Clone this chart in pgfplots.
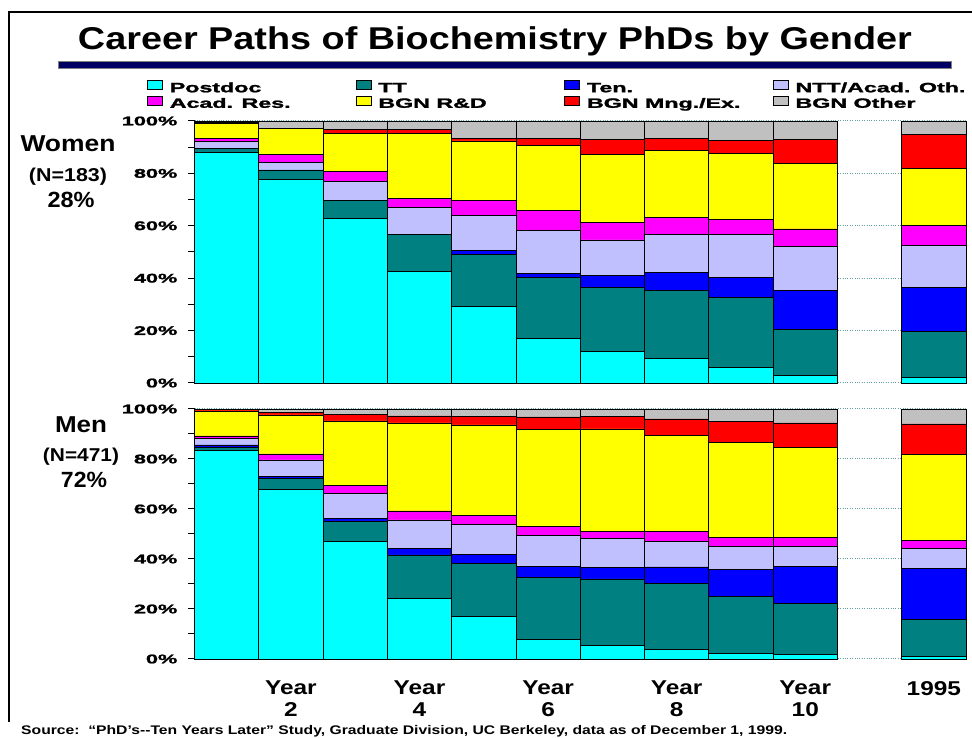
\documentclass[border=0pt]{standalone}
\usepackage{pgfplots}
\pgfplotsset{compat=1.18}
\usepackage{pgfplotstable}
\usepackage{fontspec}
\setmainfont{Liberation Sans}
\newfontfamily\heavy{Liberation Sans}[BoldFeatures={FakeBold=1.4}]
\usepackage{graphicx}

\definecolor{cPost}{RGB}{0,255,255}
\definecolor{cTT}{RGB}{0,128,128}
\definecolor{cTen}{RGB}{0,0,255}
\definecolor{cNTT}{RGB}{192,192,255}
\definecolor{cAcad}{RGB}{255,0,255}
\definecolor{cRD}{RGB}{255,255,0}
\definecolor{cMng}{RGB}{255,0,0}
\definecolor{cOth}{RGB}{192,192,192}
\definecolor{gridc}{RGB}{95,160,160}

\newcommand{\sx}[2]{\scalebox{#1}[1]{#2}}

\pgfplotstableread{
x P TT Ten NTT Acad RD Mng Oth
1 88.0 1.6 0 2.5 1.3 5.7 0.2 0.7
2 77.7 3.6 0 2.9 3.2 9.7 0 2.9
3 62.8 7.0 0 7.2 3.9 14.4 1.3 3.4
4 42.7 14.0 0 10.3 3.4 24.9 1.3 3.4
5 29.3 19.6 1.6 13.4 5.7 22.8 1.0 6.6
6 17.0 23.3 1.6 16.4 7.7 24.6 2.8 6.6
7 12.1 24.3 4.8 13.4 6.6 26.1 5.8 6.9
8 9.2 26.2 6.8 14.5 6.4 25.7 4.6 6.6
9 6.0 26.7 7.6 16.4 5.8 25.0 5.1 7.4
10 2.8 17.7 14.7 17.0 6.6 25.0 9.2 7.0
12 2.2 17.5 16.7 16.1 7.7 21.6 12.9 5.3
}\women

\pgfplotstableread{
x P TT Ten NTT Acad RD Mng Oth
1 83.5 1.2 0.9 2.7 0.9 10.0 0.7 0.1
2 67.9 4.4 0.8 6.5 2.4 15.6 1.1 1.3
3 46.9 8.3 0.9 10.0 3.4 25.7 2.7 2.1
4 24.3 17.3 2.7 11.3 3.6 35.2 2.8 2.8
5 16.9 21.4 3.6 12.0 3.4 36.3 3.3 3.1
6 7.9 24.6 4.4 12.4 3.6 39.0 4.9 3.2
7 5.5 26.5 4.7 11.4 3.0 40.9 5.1 2.9
8 3.7 26.6 6.5 10.1 4.2 38.2 6.7 4.0
9 2.1 23.0 10.8 9.0 3.8 38.0 8.4 4.9
10 1.9 20.2 15.0 7.8 3.6 36.2 9.7 5.6
12 0.9 14.8 20.4 8.0 3.4 34.4 12.1 6.0
}\men

\pgfplotsset{
  panel/.style={
    scale only axis,
    width=771.5pt,
    xmin=0.5, xmax=12.5,
    ymin=0, ymax=100,
    enlargelimits=false,
    clip=false,
    ybar stacked,
    bar width=1,
    axis lines*=left,
    x axis line style={draw=none},
    y axis line style={-, black, line width=1.5pt},
    xtick style={draw=none},
    ytick={0,20,...,100},
    minor ytick={10,30,50,70,90},
    tick align=outside,
    major tick length=7pt,
    minor tick length=7pt,
    ytick style={black, line width=1pt},
    yticklabels={\sx{1.72}{0\%},\sx{1.72}{20\%},\sx{1.72}{40\%},\sx{1.72}{60\%},\sx{1.72}{80\%},\sx{1.72}{100\%}},
    yticklabel style={font=\fontsize{12.6}{12.6}\selectfont\heavy\bfseries, inner sep=0pt, anchor=east, xshift=-10pt},
    ymajorgrids=true,
    major grid style={dotted, gridc, line width=1pt},
  },
  bars/.style={fill=#1, draw=black, line width=0.8pt},
  myleg/.style={legend image code/.code={\draw[fill=#1, draw=black, line width=0.6pt] (0pt,-1pt) rectangle (15pt,8pt);}},
}

\newcommand{\lt}[1]{\makebox[191pt][l]{\hspace{6pt}\sx{1.72}{#1}}}

\begin{document}
\begin{tikzpicture}[x=1pt,y=1pt]
\useasboundingbox (0,0) rectangle (972,738);

% frame
\draw[line width=2pt] (9,16) -- (9,726) -- (972,726);

% title
\node[anchor=base, font=\fontsize{31.5}{31.5}\selectfont\bfseries] at (495,688.5)
  {\resizebox{834pt}{\height}{Career Paths of Biochemistry PhDs by Gender}};
\shade[top color={rgb,255:red,0;green,0;blue,90}, middle color={rgb,255:red,0;green,0;blue,225}, bottom color={rgb,255:red,0;green,0;blue,110}]
  (58,669.5) rectangle (951,676.5);
\draw[gray, line width=0.6pt] (58,669.5) rectangle (951,676.5);

% side labels
\node[anchor=base, font=\fontsize{23}{23}\selectfont\bfseries] at (68,586.3) {\resizebox{95pt}{\height}{Women}};
\node[anchor=base, font=\fontsize{18.6}{18.6}\selectfont\bfseries] at (68,556.3) {\resizebox{78pt}{\height}{(N=183)}};
\node[anchor=base, font=\fontsize{22}{22}\selectfont\bfseries] at (71,530.3) {\resizebox{47pt}{\height}{28\%}};
\node[anchor=base, font=\fontsize{23}{23}\selectfont\bfseries] at (81,305.7) {\resizebox{52pt}{\height}{Men}};
\node[anchor=base, font=\fontsize{18.6}{18.6}\selectfont\bfseries] at (81,276.3) {\resizebox{76pt}{\height}{(N=471)}};
\node[anchor=base, font=\fontsize{22}{22}\selectfont\bfseries] at (84,250.3) {\resizebox{46pt}{\height}{72\%}};

% source
\node[anchor=base west, font=\fontsize{12.5}{12.5}\selectfont\bfseries, inner sep=0pt] at (21,3)
  {\resizebox{766pt}{\height}{Source:\ \ “PhD’s-{}-Ten Years Later” Study, Graduate Division, UC Berkeley, data as of December 1, 1999.}};

% Women panel
\begin{axis}[panel, at={(194.5pt,355pt)}, anchor=south west, height=262pt,
  xtick=\empty,
  legend columns=4,
  legend cell align=left,
  legend style={at={(-0.0616,1.1565)}, anchor=north west, draw=none, fill=none,
    inner sep=0pt, row sep=0pt,
    font=\fontsize{13.5}{13.5}\selectfont\heavy\bfseries,
    nodes={inner sep=1pt, text height=10pt, text depth=2.5pt}},
]
\addplot[bars=cPost, myleg=cPost] table[x=x,y=P]{\women}; \addlegendentry{\lt{Postdoc}}
\addplot[bars=cTT, myleg=cTT] table[x=x,y=TT]{\women}; \addlegendentry{\lt{TT}}
\addplot[bars=cTen, myleg=cTen] table[x=x,y=Ten]{\women}; \addlegendentry{\lt{Ten.}}
\addplot[bars=cNTT, myleg=cNTT] table[x=x,y=NTT]{\women}; \addlegendentry{\lt{NTT/Acad. Oth.}}
\addplot[bars=cAcad, myleg=cAcad] table[x=x,y=Acad]{\women}; \addlegendentry{\lt{Acad. Res.}}
\addplot[bars=cRD, myleg=cRD] table[x=x,y=RD]{\women}; \addlegendentry{\lt{BGN R\&D}}
\addplot[bars=cMng, myleg=cMng] table[x=x,y=Mng]{\women}; \addlegendentry{\lt{BGN Mng./Ex.}}
\addplot[bars=cOth, myleg=cOth] table[x=x,y=Oth]{\women}; \addlegendentry{\lt{BGN Other}}
\end{axis}

% Men panel
\begin{axis}[panel, at={(194.5pt,79pt)}, anchor=south west, height=250pt,
  xtick={2,4,6,8,10,12},
  xticklabels={{\sx{1.22}{Year}\\\sx{1.22}{2}},{\sx{1.22}{Year}\\\sx{1.22}{4}},{\sx{1.22}{Year}\\\sx{1.22}{6}},{\sx{1.22}{Year}\\\sx{1.22}{8}},{\sx{1.22}{Year}\\\sx{1.22}{10}},{\sx{1.22}{1995}}},
  xticklabel style={align=center, anchor=north, inner sep=0pt, font=\fontsize{20}{22}\selectfont\bfseries, yshift=-15pt},
]
\addplot[bars=cPost] table[x=x,y=P]{\men};
\addplot[bars=cTT] table[x=x,y=TT]{\men};
\addplot[bars=cTen] table[x=x,y=Ten]{\men};
\addplot[bars=cNTT] table[x=x,y=NTT]{\men};
\addplot[bars=cAcad] table[x=x,y=Acad]{\men};
\addplot[bars=cRD] table[x=x,y=RD]{\men};
\addplot[bars=cMng] table[x=x,y=Mng]{\men};
\addplot[bars=cOth] table[x=x,y=Oth]{\men};
\end{axis}
\end{tikzpicture}
\end{document}
